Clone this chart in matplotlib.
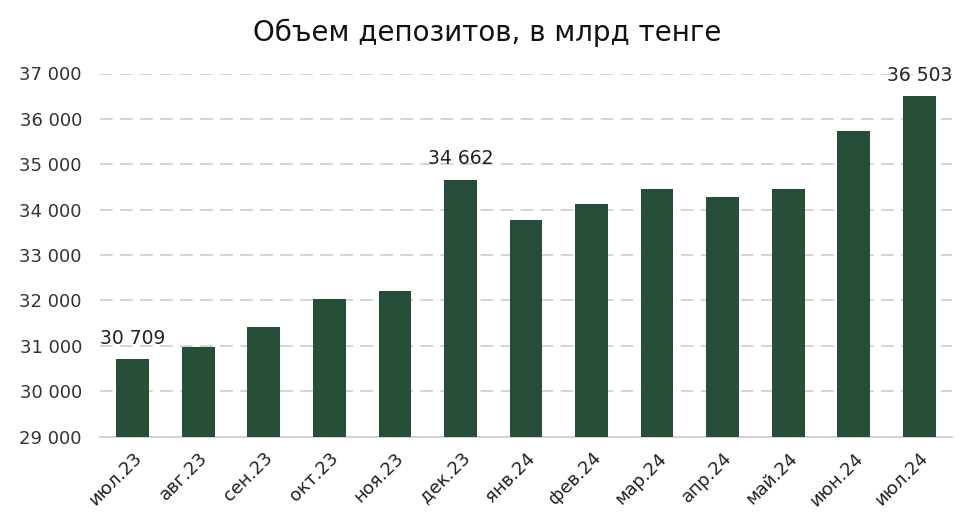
import matplotlib
matplotlib.use("Agg")
import matplotlib.pyplot as plt

categories = ["июл.23", "авг.23", "сен.23", "окт.23", "ноя.23", "дек.23", "янв.24",
              "фев.24", "мар.24", "апр.24", "май.24", "июн.24", "июл.24"]
values = [30709, 30975, 31410, 32035, 32210, 34662, 33770,
          34125, 34455, 34280, 34455, 35735, 36503]
labeled = [0, 5, 12]
yticks = [29000, 30000, 31000, 32000, 33000, 34000, 35000, 36000, 37000]
title = "Объем депозитов, в млрд тенге"

plt.rcParams['font.family'] = ['DejaVu Sans']

fig = plt.figure(figsize=(9.75, 5.24), dpi=100)
ax = fig.add_axes([100/975, 1-436.5/524, (952-100)/975, (436.5-73.5)/524])

x = list(range(len(categories)))
ax.bar(x, values, width=0.5, color="#274E38", zorder=3)
ax.set_xlim(-0.5, len(categories)-0.5)
ax.set_ylim(29000, 37000)
ax.set_yticks(yticks)
ax.set_yticklabels([f"{v:,}".replace(",", " ") for v in yticks], fontsize=13, color="#333333")
ax.yaxis.grid(True, linestyle=(0, (6.5, 3.8)), color="#d4d4d4", linewidth=1.4, zorder=0)
ax.set_axisbelow(True)
ax.set_xticks(x)
ax.set_xticklabels(categories, rotation=45, ha="right", rotation_mode="anchor",
                   fontsize=13, color="#222222")
ax.tick_params(axis="both", length=0)
ax.tick_params(axis="x", pad=9)
ax.tick_params(axis="y", pad=13)
for s in ["top", "right", "left"]:
    ax.spines[s].set_visible(False)
ax.spines["bottom"].set_color("#d0d0d0")
ax.spines["bottom"].set_linewidth(1.4)

for i in labeled:
    ax.annotate(f"{values[i]:,}".replace(",", " "), (x[i], values[i]),
                xytext=(0, 8), textcoords="offset points", ha="center", va="bottom",
                fontsize=13.5, color="#222222", zorder=4, annotation_clip=False)

fig.text(0.5, 1-33/524, title, ha="center", va="center", fontsize=20, color="#111111")

fig.savefig("out.png", dpi=100)
